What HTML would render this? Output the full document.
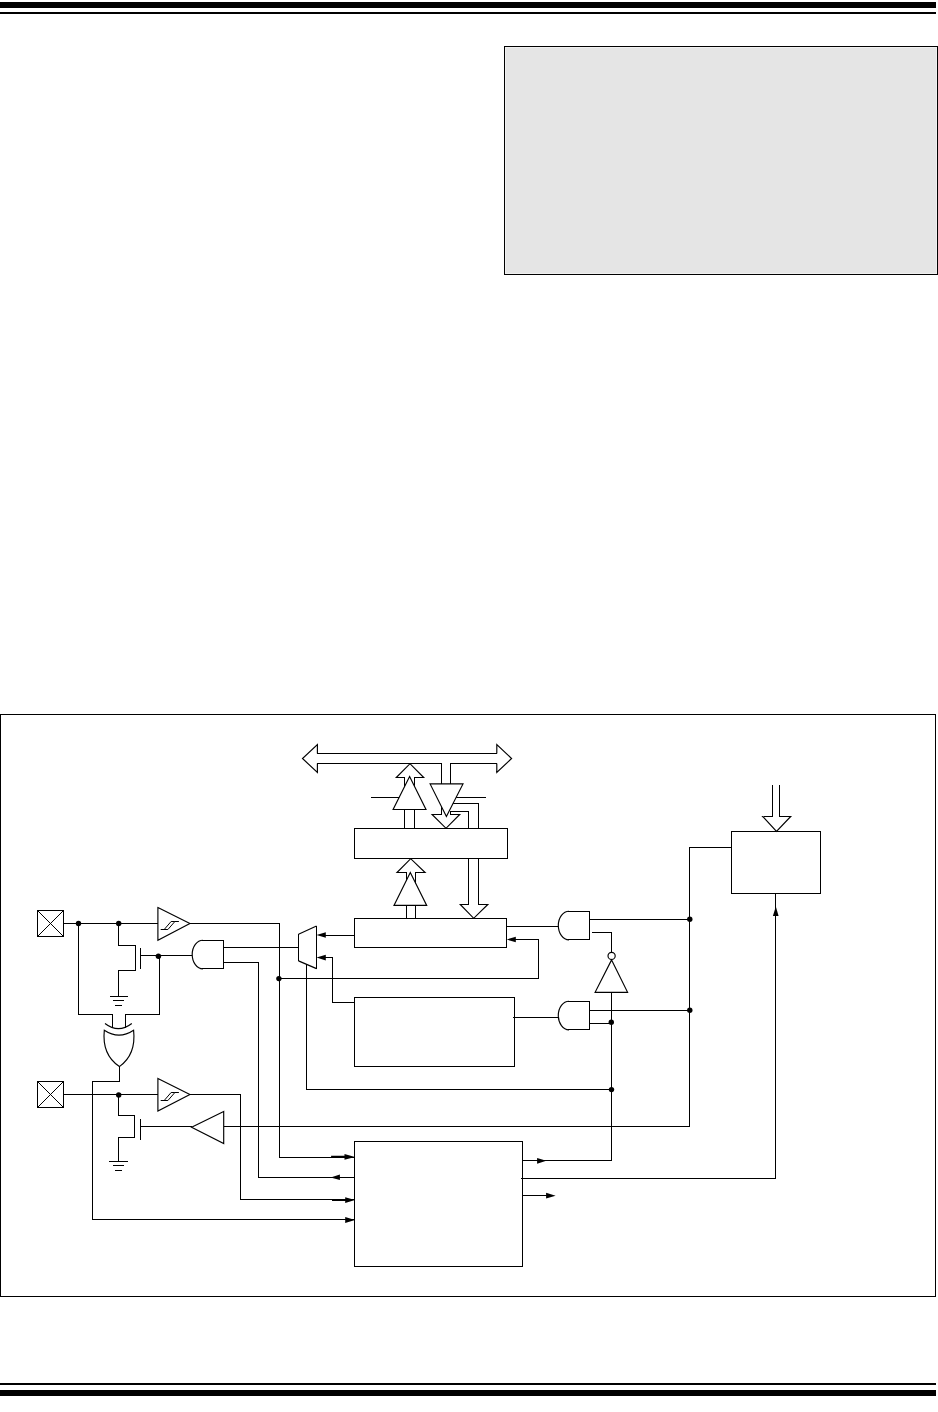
<!DOCTYPE html>
<html lang="en">
<head>
<meta charset="utf-8">
<title>Block diagram</title>
<style>
html,body{margin:0;padding:0;background:#fff;}
body{width:938px;height:1412px;overflow:hidden;position:relative;font-family:"Liberation Sans",sans-serif;}
svg{position:absolute;left:0;top:0;display:block;}
.l{fill:none;stroke:#000;stroke-width:1;stroke-linecap:butt;stroke-linejoin:miter;shape-rendering:crispEdges;}
.x{fill:none;stroke:#000;stroke-width:1;}
.d{fill:none;stroke:#000;stroke-width:1.15;stroke-linecap:butt;stroke-linejoin:miter;}
.w{fill:#fff;stroke:#000;stroke-width:1.15;stroke-linejoin:miter;}
.h{fill:none;stroke:#000;stroke-width:1;}
.k{fill:#000;stroke:none;}
</style>
</head>
<body>
<svg width="938" height="1412" viewBox="0 0 938 1412">
<!-- header / footer rules -->
<rect class="k" x="0" y="2" width="936" height="6"/>
<rect class="k" x="0" y="12" width="936" height="2"/>
<rect class="k" x="0" y="1383" width="936" height="2"/>
<rect class="k" x="0" y="1390" width="936" height="6"/>

<!-- note box -->
<rect x="505" y="47" width="432" height="227" fill="#f0f0f0"/>
<rect x="506" y="48" width="430" height="225" fill="#e5e5e5"/>
<rect class="l" x="504.5" y="46.5" width="433" height="228"/>

<!-- figure frame -->
<rect class="l" x="0.5" y="714.5" width="935" height="582"/>

<!-- ===== data bus ===== -->
<path class="l" d="M317.4,753.5 H496.8 M317.4,763.5 H441.5 V784 M450.5,784 V763.5 H496.8"/>
<path class="d" d="M317.4,753.5 V744.5 L302.5,758.5 L317.4,772.5 V763.5 M496.8,763.5 V772.5 L511.6,758.5 L496.8,744.5 V753.5"/>

<!-- up arrow + tri-state (top) -->
<path class="l" d="M404.5,828.5 V777.5 H397 M423,777.5 H414.5 V828.5"/>
<path class="d" d="M397,777.5 H396.3 L410,763.7 L423.7,777.5 H423"/>
<path class="l" d="M371,797.5 H400"/>
<path class="w" d="M409.6,776.6 L426,809.5 H393.1 Z"/>

<!-- down pipe + tri-state (top) -->
<path class="l" d="M441.5,784 V814.5 H433 M459,814.5 H450.5 V811.5 H468.5 V828.5 M450.5,784 V803.5 H478.5 V828.5"/>
<path class="d" d="M433,814.5 H432.1 L446,828.3 L459.7,814.5 H459"/>
<path class="l" d="M455,797.5 H486"/>
<path class="w" d="M430.1,783.9 H463 L446.4,816.4 Z"/>

<!-- register 0 -->
<rect class="l" x="354.5" y="828.5" width="153" height="30"/>

<!-- up arrow + tri-state (second) -->
<path class="l" d="M406.5,918.5 V872.5 H398 M424,872.5 H415.5 V918.5"/>
<path class="d" d="M398,872.5 H397 L410.7,858.7 L425.1,872.5 H424"/>
<path class="w" d="M410.3,872.6 L426.7,905.4 H394 Z"/>

<!-- down block arrow into register 1 -->
<path class="l" d="M468.5,858.5 V904.5 H461 M487,904.5 H478.5 V858.5"/>
<path class="d" d="M461,904.5 H460.3 L473.7,918.3 L487.8,904.5 H487"/>

<!-- register 1 -->
<rect class="l" x="354.5" y="918.5" width="152" height="29"/>

<!-- box 2 -->
<rect class="l" x="354.5" y="997.5" width="160" height="69"/>

<!-- big box -->
<rect class="l" x="354.5" y="1141.5" width="168" height="125"/>

<!-- right box -->
<rect class="l" x="731.5" y="831.5" width="89" height="62"/>
<path class="l" d="M772.5,785 V816.5 H763.5 M790,816.5 H779.5 V785"/>
<path class="d" d="M763.5,816.5 H762.7 L776.5,831.3 L790.7,816.5 H790"/>

<!-- ===== pins ===== -->
<rect class="l" x="37.5" y="910.5" width="26" height="26"/>
<path class="x" d="M37.5,910.5 L63.5,936.5 M63.5,910.5 L37.5,936.5"/>
<rect class="l" x="37.5" y="1081.5" width="26" height="26"/>
<path class="x" d="M37.5,1081.5 L63.5,1107.5 M63.5,1081.5 L37.5,1107.5"/>

<!-- pin 1 wiring -->
<path class="l" d="M63.5,923.5 H157.5 M189.8,923.5 H279.5 V1157.5 H354.5"/>
<path class="l" d="M78.5,923.5 V1014.5 H112.5 V1027.6 M159.5,956 V1014.5 H125.5 V1027.6"/>
<path class="l" d="M118.5,923.5 V945.5 H135.5 V970.5 H118.5 V996.5 M110,996.5 H128 M113,1000.5 H124 M115,1005.5 H122"/>
<path class="l" d="M140.5,947.5 V968.5 M140.5,955.5 H192"/>

<!-- schmitt 1 -->
<path class="d" d="M157.9,907.6 L189.9,923.5 L157.9,940.2 Z"/>
<path class="h" d="M160.7,929.5 H167.9 L174.9,921.5 H178.9 M164.2,929.5 L171.1,921.5 H174.9"/>

<!-- AND 1 -->
<path class="l" d="M202,940.5 H223.5 V968.5 H202"/>
<path class="d" d="M202.9,940.2 A10.7,14.3 0 0 0 202.9,968.8"/>
<path class="l" d="M223.5,947.5 H298.5 M223.5,962.5 H258.5 V1177.5 H354.5"/>

<!-- mux -->
<path class="l" d="M298.5,934 V961 M316.5,926 V969"/>
<path class="d" d="M298.5,934.3 L316.5,926 M316.5,968.6 L298.5,960.9"/>
<path class="l" d="M306.5,964.4 V1089.5 H611.5"/>
<path class="l" d="M354.5,935.5 H325 M325,957.5 H332.5 V1002.5 H354.5"/>
<path class="k" d="M316.5,935 L325.8,932.2 V937.8 Z M316.5,957.6 L325.8,954.8 V960.4 Z"/>

<!-- feedback -->
<path class="l" d="M279.5,978.5 H538.5 V939.5 H515"/>
<path class="k" d="M506.7,939.5 L515.8,936.7 V942.3 Z"/>

<!-- XOR -->
<path class="d" d="M105,1023.5 Q118.4,1033.9 131.8,1023.5"/>
<path class="d" d="M104.3,1030.3 Q119,1040.1 133.6,1030.3 C135.3,1046 130.2,1059 119.4,1066.6 C108,1059 102.7,1046 104.3,1030.3 Z"/>
<path class="l" d="M119.5,1066.6 V1081.5 H92.5 V1219.5 H354.5"/>

<!-- pin 2 wiring -->
<path class="l" d="M63.5,1094.5 H157.5 M189.8,1094.5 H240.5 V1199.5 H354.5"/>
<path class="l" d="M118.5,1094.5 V1115.5 H134.5 V1137.5 H118.5 V1161.5 M109,1161.5 H128 M113,1165.5 H124 M115,1170.5 H122"/>
<path class="l" d="M140.5,1118.5 V1139.5 M140.5,1126.5 H192"/>

<!-- schmitt 2 -->
<path class="d" d="M157.9,1078.4 L189.9,1094.6 L157.9,1111 Z"/>
<path class="h" d="M160.7,1100.5 H167.9 L174.9,1092.5 H178.9 M164.2,1100.5 L171.1,1092.5 H174.9"/>

<!-- buffer 3 -->
<path class="d" d="M223.7,1111.5 L191.6,1127.3 L223.7,1143.5 Z"/>
<path class="l" d="M223.5,1126.5 H689.5 V847.5 H731.5"/>

<!-- AND 2 -->
<path class="l" d="M568,911.5 H589.5 V939.5 H568"/>
<path class="d" d="M569,911.2 A10.7,14.3 0 0 0 569,939.8"/>
<path class="l" d="M506.5,926.5 H558 M589.5,919.5 H689.5 M592,932.5 H611.5 V952.3"/>

<!-- inverter -->
<circle class="d" cx="611.6" cy="955.9" r="3.6"/>
<path class="d" d="M611.6,959.9 L627.6,992.3 H595.1 Z"/>
<path class="l" d="M611.5,992.5 V1160.5 H522.5"/>

<!-- AND 3 -->
<path class="l" d="M568,1001.5 H589.5 V1029.5 H568"/>
<path class="d" d="M569,1001.2 A10.7,14.3 0 0 0 569,1029.8"/>
<path class="l" d="M513,1017.5 H558 M589.5,1010.5 H689.5 M589.5,1023.5 H611.5"/>

<!-- big box right outputs -->
<path class="l" d="M521,1178.5 H775.5 V893.5 M522.5,1195.5 H547"/>
<path class="k" d="M546.3,1160.8 L537.1,1157.9 V1163.7 Z M555.6,1195.7 L546.1,1192.8 V1198.6 Z"/>
<path class="k" d="M775.8,906.6 L778.6,916 H772.9 Z"/>

<!-- big box left arrows -->
<path class="k" d="M355,1157 L344.5,1153.9 V1159.8 Z M355,1200 L345.2,1197.2 V1203 Z M355,1220 L345.2,1217.1 V1222.9 Z M330.6,1177.4 L339.9,1174.5 V1180.1 Z"/>
<path class="k" d="M331.1,1155.8 H345 V1157.8 H331.1 Z M332,1199.1 H346 V1201.1 H332 Z"/>

<!-- junction dots -->
<g class="k">
<circle cx="78.5" cy="923.5" r="2.7"/>
<circle cx="118.7" cy="923.5" r="2.7"/>
<circle cx="158.4" cy="956.2" r="2.7"/>
<circle cx="118.7" cy="1095" r="2.7"/>
<circle cx="278.9" cy="978.6" r="2.7"/>
<circle cx="611.3" cy="1022.3" r="2.7"/>
<circle cx="611.5" cy="1089.6" r="2.7"/>
<circle cx="689.8" cy="919.3" r="2.7"/>
<circle cx="689.8" cy="1010.3" r="2.7"/>
</g>
</svg>
</body>
</html>
